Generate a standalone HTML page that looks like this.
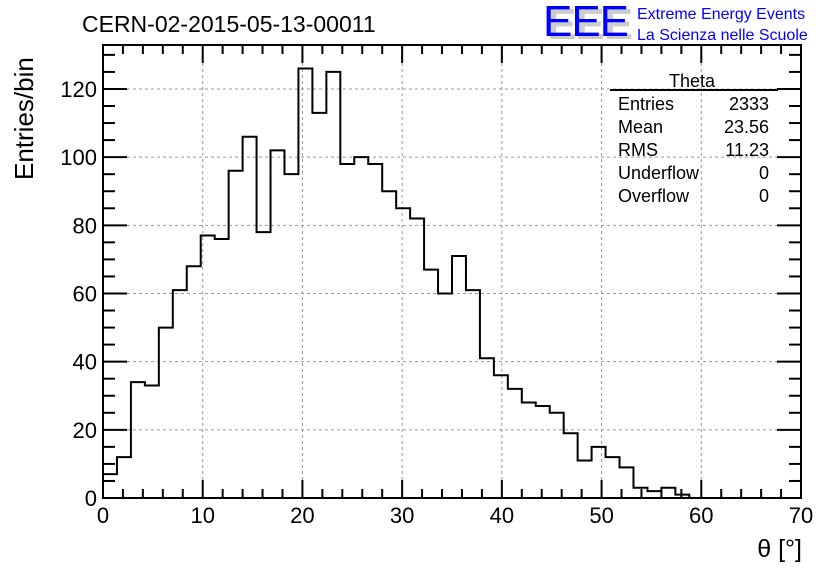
<!DOCTYPE html>
<html><head><meta charset="utf-8"><style>
body{margin:0;background:#fff;}
svg{display:block;font-family:"Liberation Sans",sans-serif;}
</style></head><body>
<svg id="c" width="836" height="572" viewBox="0 0 836 572">
<text x="82" y="32" font-size="23">CERN-02-2015-05-13-00011</text>
<g>
<text x="547" y="39" font-size="44" fill="#ccc" font-weight="bold" textLength="86">EEE</text>
<text x="543" y="36" font-size="44" fill="#0000ff" textLength="86">EEE</text>
<text x="637" y="19" font-size="16" fill="#0000ff">Extreme Energy Events</text>
<text x="637" y="40" font-size="16" fill="#0000ff">La Scienza nelle Scuole</text>
</g>
<g id="grid"></g>
<g id="axes"></g>
<path id="hist" fill="none" stroke="#000" stroke-width="2"/>
<g font-size="18">
<text x="692" y="87" text-anchor="middle">Theta</text>
<line x1="610" y1="90" x2="778" y2="90" stroke="#000" stroke-width="2"/>
<text x="618" y="110">Entries</text><text x="769" y="110" text-anchor="end">2333</text>
<text x="618" y="133">Mean</text><text x="769" y="133" text-anchor="end">23.56</text>
<text x="618" y="156">RMS</text><text x="769" y="156" text-anchor="end">11.23</text>
<text x="618" y="179">Underflow</text><text x="769" y="179" text-anchor="end">0</text>
<text x="618" y="202">Overflow</text><text x="769" y="202" text-anchor="end">0</text>
</g>
<text x="802" y="557" font-size="25" text-anchor="end">θ [°]</text>
<text transform="translate(33,180) rotate(-90)" font-size="26">Entries/bin</text>
</svg>
<script>
const binWidth = 1.4;
const counts = [7,12,34,33,50,61,68,77,76,96,106,78,102,95,126,113,125,98,100,98,90,85,82,67,60,71,61,41,36,32,28,27,25,19,11,15,12,9,3,2,3,1];
const xTicks = [0,10,20,30,40,50,60,70];
const yTicks = [0,20,40,60,80,100,120];
const X0=103,X1=801,Y0=498,Y1=45,xmax=70,ymax=132.9;
const sx=v=>X0+(X1-X0)*v/xmax;
const sy=v=>Y0-(Y0-Y1)*v/ymax;
const ns="http://www.w3.org/2000/svg";
function mk(t,a,p){const e=document.createElementNS(ns,t);for(const k in a)e.setAttribute(k,a[k]);p.appendChild(e);return e;}
const grid=document.getElementById('grid'),axes=document.getElementById('axes');
xTicks.forEach(t=>{
 if(t>0&&t<xmax){const g=mk('line',{x1:sx(t),x2:sx(t),y1:Y0,y2:Y1,stroke:'#999','stroke-dasharray':'3,3'},grid);
 
 }
 const l=mk('text',{x:sx(t),y:523,'font-size':22,'text-anchor':'middle'},axes);l.textContent=t;
 
 
});
yTicks.forEach(t=>{
 if(t>0){const g=mk('line',{x1:X0,x2:X1,y1:sy(t),y2:sy(t),stroke:'#999','stroke-dasharray':'3,3'},grid);
 
 }
 const l=mk('text',{x:97,y:sy(t)+8,'font-size':22,'text-anchor':'end'},axes);l.textContent=t;
 
 
});
mk('rect',{x:X0,y:Y1,width:X1-X0,height:Y0-Y1,fill:'none',stroke:'#000','stroke-width':2},axes);
for(let v=0;v<=xmax;v+=2){const L=v%10==0?18:9;
 mk('line',{x1:sx(v),x2:sx(v),y1:Y0,y2:Y0-L,stroke:'#000','stroke-width':2},axes);
 mk('line',{x1:sx(v),x2:sx(v),y1:Y1,y2:Y1+L,stroke:'#000','stroke-width':2},axes);}
for(let v=0;v<=ymax;v+=5){const L=v%20==0?24:12;
 mk('line',{x1:X0,x2:X0+L,y1:sy(v),y2:sy(v),stroke:'#000','stroke-width':2},axes);
 mk('line',{x1:X1,x2:X1-L,y1:sy(v),y2:sy(v),stroke:'#000','stroke-width':2},axes);}
let d=`M${sx(0)},${sy(0)}`;
counts.forEach((c,i)=>{d+=` L${sx(i*binWidth)},${sy(c)} L${sx((i+1)*binWidth)},${sy(c)}`;});
d+=` L${sx(counts.length*binWidth)},${sy(0)}`;
document.getElementById('hist').setAttribute('d',d);
</script>
</body></html>
